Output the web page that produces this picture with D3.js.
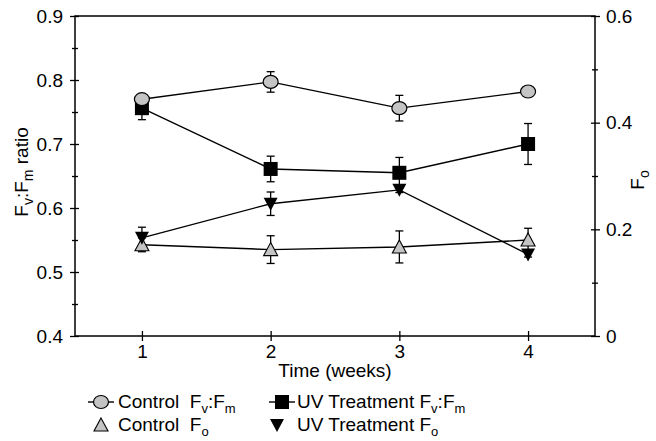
<!DOCTYPE html>
<html>
<head>
<meta charset="utf-8">
<script src="https://cdn.jsdelivr.net/npm/d3@7"></script>
<style>
  body { margin: 0; background: #fff; }
  text { font-family: "Liberation Sans", Arial, sans-serif; fill: #000; }
</style>
</head>
<body>
<div id="chart"></div>
<script>
// data
var weeks = [1, 2, 3, 4];
var controlFvFm = [0.770, 0.797, 0.756, 0.782];
var controlFvFmErr = [0.007, 0.016, 0.020, 0.004];
var uvFvFm = [0.756, 0.661, 0.655, 0.700];
var uvFvFmErr = [0.018, 0.020, 0.024, 0.032];
var controlFo = [0.171, 0.162, 0.167, 0.180];
var controlFoErr = [0.013, 0.026, 0.030, 0.022];
var uvFo = [0.184, 0.248, 0.274, 0.153];
var uvFoErr = [0.020, 0.022, 0.005, 0.005];

var leftTicks = [0.4, 0.5, 0.6, 0.7, 0.8, 0.9];
var leftMinor = [0.45, 0.55, 0.65, 0.75, 0.85];
var rightTicks = [0, 0.2, 0.4, 0.6];
var rightMinor = [0.1, 0.3, 0.5];

var width = 656, height = 441;
var plotL = 75, plotR = 595, plotT = 16, plotB = 336;

var svg = d3.select('#chart').append('svg')
    .attr('width', width)
    .attr('height', height);

var x = d3.scaleLinear().domain([0.48, 4.52]).range([plotL, plotR]);
var yL = d3.scaleLinear().domain([0.4, 0.9]).range([plotB, plotT]);
var yR = d3.scaleLinear().domain([0, 0.6]).range([plotB, plotT]);

// frame
svg.append('rect')
    .attr('x', plotL).attr('y', plotT)
    .attr('width', plotR - plotL).attr('height', plotB - plotT)
    .attr('fill', 'none').attr('stroke', '#000').attr('stroke-width', 1.5);

function styleAxis(g) {
    g.select('.domain').remove();
    g.selectAll('line').attr('stroke', '#000').attr('stroke-width', 1.3);
    g.selectAll('text').attr('font-size', 19).attr('font-family', '"Liberation Sans", Arial, sans-serif');
}

// left axis: outer ticks with labels, inner ticks, minor ticks
svg.append('g').attr('transform', 'translate(' + plotL + ',0)')
    .call(d3.axisLeft(yL).tickValues(leftTicks).tickSize(5).tickPadding(7).tickFormat(d3.format('.1f')))
    .call(styleAxis);
svg.append('g').attr('transform', 'translate(' + plotL + ',0)')
    .call(d3.axisLeft(yL).tickValues(leftTicks).tickSize(-4).tickFormat(''))
    .call(styleAxis);
svg.append('g').attr('transform', 'translate(' + plotL + ',0)')
    .call(d3.axisLeft(yL).tickValues(leftMinor).tickSize(3).tickFormat(''))
    .call(styleAxis);
svg.append('g').attr('transform', 'translate(' + plotL + ',0)')
    .call(d3.axisLeft(yL).tickValues(leftMinor).tickSize(-3).tickFormat(''))
    .call(styleAxis);

// right axis
svg.append('g').attr('transform', 'translate(' + plotR + ',0)')
    .call(d3.axisRight(yR).tickValues(rightTicks).tickSize(5).tickPadding(6)
        .tickFormat(function(d) { return d === 0 ? '0' : d3.format('.1f')(d); }))
    .call(styleAxis);
svg.append('g').attr('transform', 'translate(' + plotR + ',0)')
    .call(d3.axisRight(yR).tickValues(rightTicks).tickSize(-4).tickFormat(''))
    .call(styleAxis);
svg.append('g').attr('transform', 'translate(' + plotR + ',0)')
    .call(d3.axisRight(yR).tickValues(rightMinor).tickSize(3).tickFormat(''))
    .call(styleAxis);
svg.append('g').attr('transform', 'translate(' + plotR + ',0)')
    .call(d3.axisRight(yR).tickValues(rightMinor).tickSize(-3).tickFormat(''))
    .call(styleAxis);

// x axis
svg.append('g').attr('transform', 'translate(0,' + plotB + ')')
    .call(d3.axisBottom(x).tickValues(weeks).tickSize(5).tickPadding(4).tickFormat(d3.format('d')))
    .call(styleAxis);
svg.append('g').attr('transform', 'translate(0,' + plotB + ')')
    .call(d3.axisBottom(x).tickValues(weeks).tickSize(-5).tickFormat(''))
    .call(styleAxis);

// axis titles
svg.append('text')
    .attr('x', (plotL + plotR) / 2).attr('y', 377)
    .attr('text-anchor', 'middle').attr('font-size', 19)
    .text('Time (weeks)');

var ylab = svg.append('text')
    .attr('transform', 'translate(28,172) rotate(-90)')
    .attr('text-anchor', 'middle').attr('font-size', 19);
ylab.append('tspan').text('F');
ylab.append('tspan').attr('dy', 5).attr('font-size', 14).text('v');
ylab.append('tspan').attr('dy', -5).text(':F');
ylab.append('tspan').attr('dy', 5).attr('font-size', 14).text('m');
ylab.append('tspan').attr('dy', -5).text(' ratio');

var rlab = svg.append('text')
    .attr('transform', 'translate(644,180) rotate(-90)')
    .attr('text-anchor', 'middle').attr('font-size', 19);
rlab.append('tspan').text('F');
rlab.append('tspan').attr('dy', 5).attr('font-size', 14).text('o');

// series
var series = [
    { vals: controlFo, err: controlFoErr, y: yR, shape: 'up', fill: '#c4c4c4' },
    { vals: uvFo, err: uvFoErr, y: yR, shape: 'down', fill: '#000' },
    { vals: uvFvFm, err: uvFvFmErr, y: yL, shape: 'square', fill: '#000' },
    { vals: controlFvFm, err: controlFvFmErr, y: yL, shape: 'circle', fill: '#c4c4c4' }
];

var line = d3.line();

series.forEach(function(s) {
    var pts = weeks.map(function(w, i) { return [x(w), s.y(s.vals[i])]; });
    svg.append('path')
        .attr('d', line(pts))
        .attr('fill', 'none').attr('stroke', '#000').attr('stroke-width', 1.4);
});

series.forEach(function(s) {
    var g = svg.append('g');
    weeks.forEach(function(w, i) {
        var cx = x(w);
        var y1 = s.y(s.vals[i] + s.err[i]), y2 = s.y(s.vals[i] - s.err[i]);
        g.append('line').attr('x1', cx).attr('x2', cx).attr('y1', y1).attr('y2', y2)
            .attr('stroke', '#000').attr('stroke-width', 1.3);
        [y1, y2].forEach(function(yy) {
            g.append('line').attr('x1', cx - 4).attr('x2', cx + 4).attr('y1', yy).attr('y2', yy)
                .attr('stroke', '#000').attr('stroke-width', 1.3);
        });
    });
});

function drawMarker(g, shape, fill, cx, cy) {
    if (shape === 'circle') {
        g.append('ellipse').attr('cx', cx).attr('cy', cy).attr('rx', 7.5).attr('ry', 6.5)
            .attr('fill', fill).attr('stroke', '#000').attr('stroke-width', 1.2);
    } else if (shape === 'square') {
        g.append('rect').attr('x', cx - 7).attr('y', cy - 7).attr('width', 14).attr('height', 14)
            .attr('fill', fill);
    } else if (shape === 'up') {
        g.append('path').attr('d', 'M' + cx + ',' + (cy - 7) + 'L' + (cx + 7) + ',' + (cy + 6) + 'L' + (cx - 7) + ',' + (cy + 6) + 'Z')
            .attr('fill', fill).attr('stroke', '#000').attr('stroke-width', 1.1);
    } else {
        g.append('path').attr('d', 'M' + (cx - 7) + ',' + (cy - 6) + 'L' + (cx + 7) + ',' + (cy - 6) + 'L' + cx + ',' + (cy + 7) + 'Z')
            .attr('fill', fill);
    }
}

series.forEach(function(s) {
    var g = svg.append('g');
    weeks.forEach(function(w, i) {
        drawMarker(g, s.shape, s.fill, x(w), s.y(s.vals[i]));
    });
});

// legend
var legend = [
    { shape: 'circle', fill: '#c4c4c4', lineSeg: true, sx: 101, sy: 402, tx: 118, ty: 408, label: 'Control  F', sub1: 'v', mid: ':F', sub2: 'm' },
    { shape: 'square', fill: '#000', lineSeg: true, sx: 282, sy: 402, tx: 297, ty: 408, label: 'UV Treatment F', sub1: 'v', mid: ':F', sub2: 'm' },
    { shape: 'up', fill: '#c4c4c4', lineSeg: false, sx: 101, sy: 425, tx: 118, ty: 431, label: 'Control  F', sub1: 'o' },
    { shape: 'down', fill: '#000', lineSeg: false, sx: 277, sy: 425, tx: 297, ty: 431, label: 'UV Treatment F', sub1: 'o' }
];

legend.forEach(function(l) {
    var g = svg.append('g');
    if (l.lineSeg) {
        g.append('line').attr('x1', l.sx - 13).attr('x2', l.sx + 13).attr('y1', l.sy).attr('y2', l.sy)
            .attr('stroke', '#000').attr('stroke-width', 1.4);
    }
    drawMarker(g, l.shape, l.fill, l.sx, l.sy);
    var t = g.append('text').attr('x', l.tx).attr('y', l.ty).attr('font-size', 19)
        .style('white-space', 'pre');
    t.append('tspan').text(l.label);
    t.append('tspan').attr('dy', 5).attr('font-size', 13).text(l.sub1);
    if (l.mid) {
        t.append('tspan').attr('dy', -5).text(l.mid);
        t.append('tspan').attr('dy', 5).attr('font-size', 13).text(l.sub2);
    }
});
</script>
</body>
</html>
